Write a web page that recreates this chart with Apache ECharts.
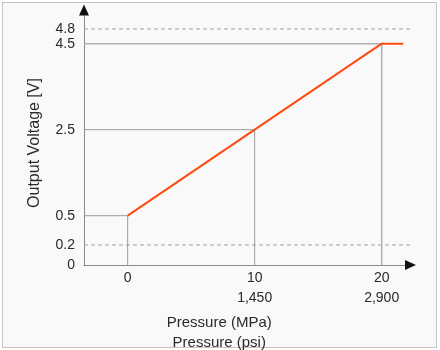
<!DOCTYPE html>
<html>
<head>
<meta charset="utf-8">
<script src="https://cdn.jsdelivr.net/npm/echarts@6/dist/echarts.min.js"></script>
<style>
  html, body { margin: 0; padding: 0; background: #ffffff; }
  #frame { position: absolute; left: 2px; top: 2px; width: 435px; height: 346px; box-sizing: border-box; border: 1px solid #c4c4c4; background: #f9f9f9; }
  #chart { position: absolute; left: 0; top: 0; width: 440px; height: 350px; }
</style>
</head>
<body>
<div id="frame"></div>
<div id="chart"></div>
<script>
// ---- data ----
const pressureMPa = [0, 10, 20];
const pressurePsi = ['', '1,450', '2,900'];
const outputVoltage = [0.5, 2.5, 4.5];
const plateauEndMPa = 21.7;
const voltageTicks = [0, 0.2, 0.5, 2.5, 4.5, 4.8];
const limitVoltages = [0.2, 4.8];
const xAxisTitle = 'Pressure (MPa)\nPressure (psi)';
const yAxisTitle = 'Output Voltage [V]';

// ---- broken (schematic) voltage scale: piecewise-linear ----
const scaleBreaks = [0, 0.2, 0.5, 4.5, 4.8];
const scaleUnits  = [0, 20, 49.3, 221.3, 236];
function vScale(v) {
  for (let i = 0; i < scaleBreaks.length - 1; i++) {
    const a = scaleBreaks[i], b = scaleBreaks[i + 1];
    if (v <= b || i === scaleBreaks.length - 2) {
      return scaleUnits[i] + (v - a) / (b - a) * (scaleUnits[i + 1] - scaleUnits[i]);
    }
  }
}
const yTickPos = voltageTicks.map(vScale);

const xMin = -3.44, xMax = 22.27, yMax = 255;
const textColor = '#2a2a2a';
const fontFamily = 'Liberation Sans, Arial, sans-serif';
const guideColor = '#9a9a9a';
const axisColor = '#8a8a8a';

// signal line
const signal = pressureMPa.map((p, i) => [p, vScale(outputVoltage[i])]);
signal.push([plateauEndMPa, vScale(outputVoltage[outputVoltage.length - 1])]);

// guide lines (horizontal from y-axis to point, then down to x-axis)
const guideSeries = pressureMPa.map((p, i) => ({
  type: 'line',
  data: [[xMin, vScale(outputVoltage[i])], [p, vScale(outputVoltage[i])], [p, 0]],
  symbol: 'none',
  lineStyle: { color: i === 2 ? '#b0b0b0' : guideColor, width: i === 2 ? 1.5 : 1 },
  silent: true, z: 1
}));

const limitSeries = limitVoltages.map(v => ({
  type: 'line',
  data: [[xMin, vScale(v)], [22.45, vScale(v)]],
  symbol: 'none',
  clip: false,
  lineStyle: { color: '#a0a0a0', width: 1, type: [4, 3] },
  silent: true, z: 1
}));

const chart = echarts.init(document.getElementById('chart'), null, { renderer: 'canvas' });
chart.setOption({
  backgroundColor: 'transparent',
  animation: false,
  textStyle: { fontFamily: fontFamily, color: textColor },
  grid: { left: 84, right: 29.5, top: 10, bottom: 85, containLabel: false, outerBoundsMode: 'none' },
  xAxis: {
    type: 'value', min: xMin, max: xMax,
    splitLine: { show: false },
    axisTick: { show: false },
    axisLine: { show: true, onZero: false, lineStyle: { color: axisColor, width: 1 } },
    axisLabel: {
      customValues: pressureMPa,
      showMinLabel: true, showMaxLabel: true,
      margin: 3, fontSize: 14, lineHeight: 20, color: textColor, fontFamily: fontFamily,
      formatter: (val) => {
        const i = pressureMPa.indexOf(val);
        return pressurePsi[i] ? val + '\n' + pressurePsi[i] : String(val);
      }
    },
    name: xAxisTitle, nameLocation: 'middle', nameGap: 40,
    nameTextStyle: { fontSize: 15, lineHeight: 20, color: textColor, fontFamily: fontFamily, padding: [0, 56, 0, 0] }
  },
  yAxis: {
    type: 'value', min: 0, max: yMax,
    splitLine: { show: false },
    axisTick: { show: false },
    axisLine: { show: true, onZero: false, lineStyle: { color: axisColor, width: 1 } },
    axisLabel: {
      customValues: yTickPos,
      margin: 9, fontSize: 14, color: textColor, fontFamily: fontFamily,
      padding: [4, 0, 0, 0],
      formatter: (val) => {
        let best = 0;
        yTickPos.forEach((p, i) => { if (Math.abs(p - val) < Math.abs(yTickPos[best] - val)) best = i; });
        return String(voltageTicks[best]);
      }
    },
    name: yAxisTitle, nameLocation: 'middle', nameGap: 41, nameRotate: 90,
    nameTextStyle: { fontSize: 16, color: textColor, fontFamily: fontFamily, padding: [0, 11, 0, 0] }
  },
  series: [
    ...limitSeries,
    ...guideSeries,
    {
      type: 'line', data: signal, symbol: 'none',
      lineStyle: { color: '#ff4a10', width: 2 }, z: 3, silent: true
    }
  ]
});

// axis arrowheads at the ends of the axes
const yEnd = chart.convertToPixel({ gridIndex: 0 }, [xMin, yMax]);
const xEnd = chart.convertToPixel({ gridIndex: 0 }, [xMax, 0]);
chart.setOption({
  graphic: [
    { type: 'polygon', silent: true, z: 10,
      shape: { points: [[yEnd[0] - 5, yEnd[1] + 5.5], [yEnd[0] + 5, yEnd[1] + 5.5], [yEnd[0], yEnd[1] - 5.5]] },
      style: { fill: '#111' } },
    { type: 'polygon', silent: true, z: 10,
      shape: { points: [[xEnd[0] - 5.5, xEnd[1] - 5], [xEnd[0] - 5.5, xEnd[1] + 5], [xEnd[0] + 5.5, xEnd[1]]] },
      style: { fill: '#111' } }
  ]
});
</script>
</body>
</html>
